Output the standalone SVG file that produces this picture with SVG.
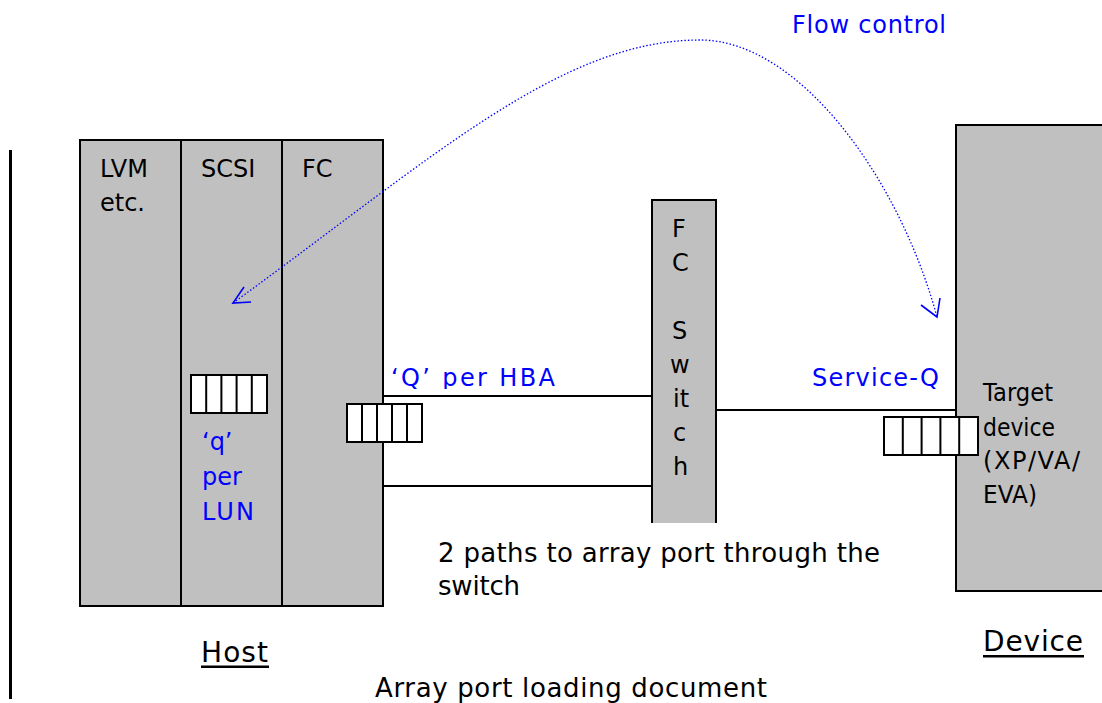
<svg xmlns="http://www.w3.org/2000/svg" width="1102" height="703" viewBox="0 0 1102 703">
<style>
.box{fill:#c0c0c0;stroke:#000;stroke-width:2}
.q{fill:#fff;stroke:#000;stroke-width:2}
.ln{stroke:#000;stroke-width:2;fill:none}
.t{font-family:"DejaVu Sans","Liberation Sans",sans-serif;font-size:24px;fill:#000}
.b{font-family:"DejaVu Sans","Liberation Sans",sans-serif;font-size:24px;fill:#0000ff}
.big{font-size:28px}
.mid{font-size:26px}
.flow{fill:none;stroke:#0000ff;stroke-width:1.3;stroke-dasharray:1.5 2}
.ah{fill:none;stroke:#0000ff;stroke-width:1.6}
</style>
<defs>
<clipPath id="clipQ"><rect x="380" y="340" width="280" height="49"/></clipPath>
</defs>
<rect width="1102" height="703" fill="#fff"/>
<line x1="10.5" y1="150" x2="10.5" y2="699" stroke="#000" stroke-width="3"/>

<g id="host">
<rect class="box" x="80" y="140" width="303" height="466"/>
<line class="ln" x1="181" y1="140" x2="181" y2="606"/>
<line class="ln" x1="282" y1="140" x2="282" y2="606"/>
<text class="t" x="100" y="177">LVM</text>
<text class="t" x="100" y="211">etc.</text>
<text class="t" x="201" y="177">SCSI</text>
<text class="t" x="302" y="177">FC</text>
<text class="b" x="202" y="450">‘q’</text>
<text class="b" x="202" y="485">per</text>
<text class="b" x="202" y="520" textLength="52">LUN</text>
<text class="t big" x="201" y="662" textLength="67">Host</text>
<rect x="201" y="665.5" width="68" height="2.5" fill="#000"/>
</g>

<g id="lun-queue">
<rect class="q" x="191" y="375" width="76" height="38"/>
<path class="ln" d="M206.2,375V413M221.4,375V413M236.6,375V413M251.8,375V413"/>
</g>

<g id="connectors">
<line class="ln" x1="383" y1="396" x2="652" y2="396"/>
<line class="ln" x1="383" y1="486" x2="652" y2="486"/>
<line class="ln" x1="716" y1="410" x2="956" y2="410"/>
<path class="flow" d="M233,303 C430,160 560,40 700,40 C800,40 900,180 937,317"/>
<path class="ah" d="M251,302 L233,303 L244,287"/>
<path class="ah" d="M921,305 L937,317 L940,298"/>
</g>

<g id="hba-queue">
<rect class="q" x="347" y="404" width="75" height="38"/>
<path class="ln" d="M362,404V442M377,404V442M392,404V442M407,404V442"/>
<text class="b" x="391" y="386" textLength="164" clip-path="url(#clipQ)">‘Q’ per HBA</text>
</g>

<g id="switch">
<path class="box" d="M652,523 V200 H716 V523"/>
<text class="t" x="672" y="237">F</text>
<text class="t" x="672" y="271">C</text>
<text class="t" x="672" y="339">S</text>
<text class="t" x="670" y="373">w</text>
<text class="t" x="673" y="407">it</text>
<text class="t" x="673" y="441">c</text>
<text class="t" x="673" y="475">h</text>
</g>

<g id="device">
<path class="box" d="M1110,125 H956 V591 H1110"/>
<text class="t" x="983" y="401" textLength="70" lengthAdjust="spacingAndGlyphs">Target</text>
<text class="t" x="983" y="436" textLength="72" lengthAdjust="spacingAndGlyphs">device</text>
<text class="t" x="983" y="469" textLength="97">(XP/VA/</text>
<text class="t" x="983" y="503" textLength="54" lengthAdjust="spacingAndGlyphs">EVA)</text>
<text class="t big" x="983" y="651" textLength="100">Device</text>
<rect x="983" y="655" width="101" height="2.5" fill="#000"/>
</g>

<g id="service-queue">
<rect class="q" x="884" y="417" width="94" height="38"/>
<path class="ln" d="M902.8,417V455M921.6,417V455M940.4,417V455M959.2,417V455"/>
<text class="b" x="812" y="386" textLength="127">Service-Q</text>
</g>

<g id="labels">
<text class="b" x="792" y="33" textLength="154">Flow control</text>
<text class="t mid" x="438" y="562" textLength="442">2 paths to array port through the</text>
<text class="t mid" x="438" y="595" textLength="82">switch</text>
<text class="t mid" x="375" y="697" textLength="392">Array port loading document</text>
</g>
</svg>
